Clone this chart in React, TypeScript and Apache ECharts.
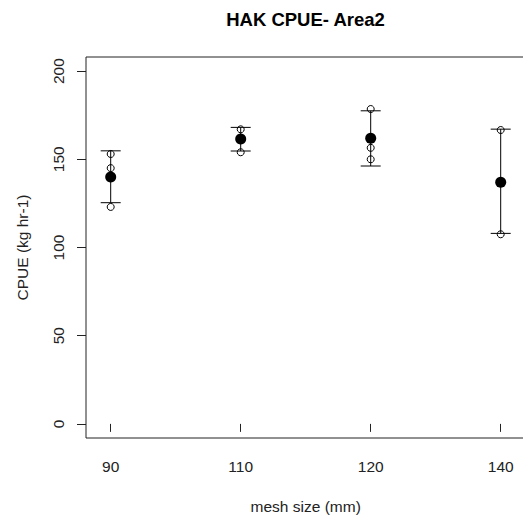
import React, { useEffect, useRef } from "react";
import * as echarts from "echarts";

// Mesh sizes (mm) shown on the x axis, placed at positions 1..4
const meshSizes = ["90", "110", "120", "140"];
// Mean CPUE per mesh size (kg hr-1)
const meanCpue = [140, 161.5, 162, 137];
// Lower / upper ends of the error bars
const lowerCpue = [125.4, 154.7, 146.2, 108];
const upperCpue = [154.8, 168.1, 177.5, 167.1];
// Individual haul CPUE values per mesh size
const hauls90 = [153, 145, 123];
const hauls110 = [167, 154];
const hauls120 = [178.5, 156.5, 150];
const hauls140 = [166.6, 107.5];
const yTicks = [0, 50, 100, 150, 200];

const FONT = "'Liberation Sans', Arial, sans-serif";

export default function App() {
  const ref = useRef<HTMLDivElement>(null);

  useEffect(() => {
    if (!ref.current) return;
    const chart = echarts.init(ref.current, undefined, { renderer: "svg" });

    const haulPoints: number[][] = [];
    [hauls90, hauls110, hauls120, hauls140].forEach((arr, i) =>
      arr.forEach((v) => haulPoints.push([i + 1, v]))
    );
    const meanPoints = meanCpue.map((v, i) => [i + 1, v]);
    const barData = meanCpue.map((_, i) => [i + 1, lowerCpue[i], upperCpue[i]]);

    chart.setOption({
      animation: false,
      textStyle: { fontFamily: FONT },
      graphic: [
        {
          type: "text",
          x: 305.5,
          y: 19,
          style: {
            text: "HAK CPUE- Area2",
            fontFamily: FONT,
            fontWeight: "bold",
            fontSize: 18.5,
            fill: "#000",
            align: "center",
            verticalAlign: "middle",
          },
        },
      ],
      grid: {
        left: 86,
        top: 57,
        width: 439.4,
        height: 381,
        show: true,
        borderColor: "#222",
        borderWidth: 1,
        backgroundColor: "transparent",
      },
      xAxis: {
        type: "value",
        min: 0.81,
        max: 4.19,
        name: "mesh size (mm)",
        nameLocation: "middle",
        nameGap: 60,
        nameTextStyle: { fontSize: 15.5, color: "#222", fontFamily: FONT },
        splitLine: { show: false },
        axisLine: { show: false },
        axisTick: {
          show: true,
          length: 8,
          customValues: [1, 2, 3, 4],
          lineStyle: { color: "#222" },
        },
        axisLabel: {
          customValues: [1, 2, 3, 4],
          formatter: (v: number) => meshSizes[Math.round(v) - 1] ?? "",
          fontSize: 15.5,
          color: "#222",
          margin: 20,
          fontFamily: FONT,
        },
      },
      yAxis: {
        type: "value",
        min: -8,
        max: 208,
        name: "CPUE (kg hr-1)",
        nameLocation: "middle",
        nameRotate: 90,
        nameGap: 56,
        nameTextStyle: { fontSize: 15.5, color: "#222", fontFamily: FONT },
        splitLine: { show: false },
        axisLine: { show: false },
        axisTick: {
          show: true,
          length: 9,
          customValues: yTicks,
          lineStyle: { color: "#222" },
        },
        axisLabel: {
          customValues: yTicks,
          rotate: 90,
          fontSize: 15.5,
          color: "#222",
          margin: 20,
          fontFamily: FONT,
        },
      },
      series: [
        {
          type: "custom",
          data: barData,
          renderItem: (params: any, api: any) => {
            const x = api.value(0);
            const lo = api.coord([x, api.value(1)]);
            const hi = api.coord([x, api.value(2)]);
            const half = 10;
            const style = { stroke: "#000", lineWidth: 1 };
            return {
              type: "group",
              children: [
                { type: "line", shape: { x1: lo[0], y1: lo[1], x2: hi[0], y2: hi[1] }, style },
                { type: "line", shape: { x1: lo[0] - half, y1: lo[1], x2: lo[0] + half, y2: lo[1] }, style },
                { type: "line", shape: { x1: hi[0] - half, y1: hi[1], x2: hi[0] + half, y2: hi[1] }, style },
              ],
            };
          },
          z: 1,
        },
        {
          type: "scatter",
          data: haulPoints,
          symbol: "circle",
          symbolSize: 7,
          itemStyle: { color: "transparent", borderColor: "#000", borderWidth: 1, opacity: 1 },
          z: 2,
        },
        {
          type: "scatter",
          data: meanPoints,
          symbol: "circle",
          symbolSize: 11,
          itemStyle: { color: "#000", opacity: 1 },
          z: 3,
        },
      ],
    });

    return () => chart.dispose();
  }, []);

  return (
    <div
      ref={ref}
      style={{ position: "fixed", left: 0, top: 0, width: 532, height: 525, background: "#fff" }}
    />
  );
}
